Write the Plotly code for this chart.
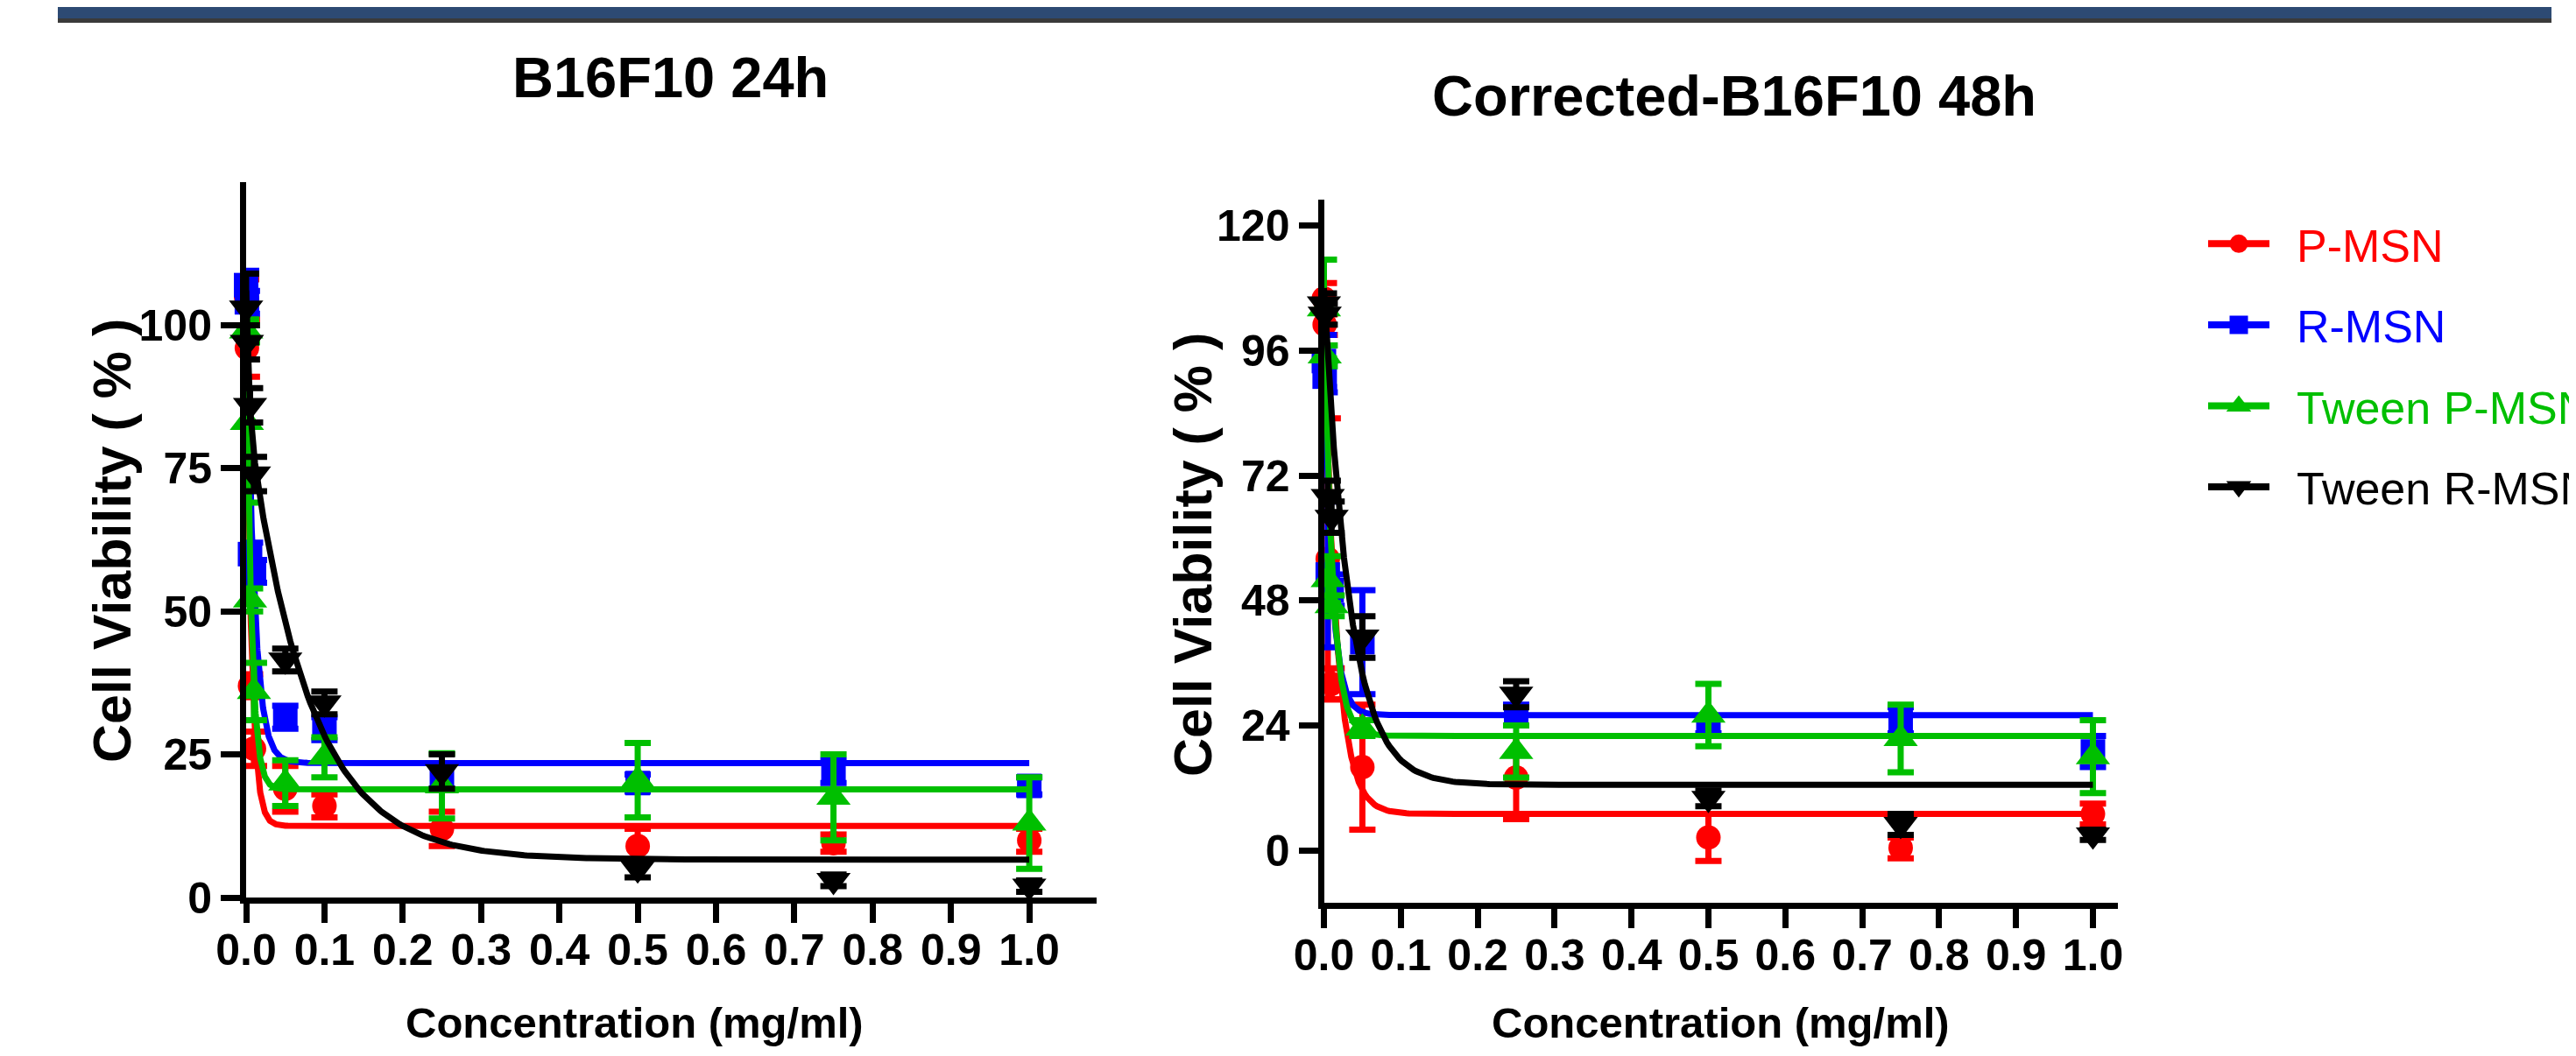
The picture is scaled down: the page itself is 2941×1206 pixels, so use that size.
import numpy as np
import plotly.graph_objects as go

W, H = 2941, 1206

# ---------------- data ----------------
series_names = ["P-MSN", "R-MSN", "Tween P-MSN", "Tween R-MSN"]
series_colors = ["#FF0000", "#0000FF", "#00BF00", "#000000"]
series_symbols = ["circle", "square", "triangle-up", "triangle-down"]

# B16F10 24h
conc_24 = [0, 0.001, 0.005, 0.01, 0.05, 0.1, 0.25, 0.5, 0.75, 1.0]
pmsn_24 = [105, 96, 37, 26, 19, 16, 12, 9, 9.5, 10]
pmsn_24_err = [3, 5, 2, 3, 4, 2, 3, 3, 1.5, 2]
rmsn_24 = [107, 104, 60, 57, 31.5, 29.5, 21, 20, 22, 19.5]
rmsn_24_err = [2.5, 2, 2, 2, 2, 2, 2, 1.5, 2, 1.5]
tpmsn_24 = [99, 83, 52, 36, 20, 24.5, 19.5, 20.5, 17.5, 13]
tpmsn_24_err = [2, 14, 2, 5, 4, 3.5, 5.7, 6.5, 7.5, 8]
trmsn_24 = [103, 97, 86, 74, 41.5, 34, 22, 5, 3, 2]
trmsn_24_err = [6, 3, 3, 3, 2, 2, 3, 1.5, 1, 1]

# Corrected-B16F10 48h
conc_48 = [0, 0.001, 0.005, 0.01, 0.05, 0.25, 0.5, 0.75, 1.0]
pmsn_48 = [106, 101, 56, 32, 16, 14, 2.5, 0.5, 7]
pmsn_48_err = [3, 2, 27, 3, 12, 8, 4.5, 2, 2]
rmsn_48 = [94, 91, 53, 50, 40, 26, 24, 25, 19]
rmsn_48_err = [5, 3, 14, 3, 10, 2, 1.5, 2.5, 3]
tpmsn_48 = [104, 95, 52, 47, 23.5, 19, 26, 21.5, 18]
tpmsn_48_err = [9.5, 2, 4.5, 2, 1.5, 5, 6, 6.5, 7]
trmsn_48 = [105, 103, 68, 64, 41, 30, 10, 5, 3]
trmsn_48_err = [2, 2, 3, 3, 4, 2.5, 1.5, 2, 1]

# one/two-phase decay fit parameters
fit_plateau_24 = [12.5, 23.5, 18.9, 6.6]
fit_span_24 = [87.5, 83.5, 81.0, 79.5]
fit_k_24 = [150, 100, 150, 13]
fit_fast_span_24 = [0, 0, 0, 20]
fit_fast_k_24 = [1, 1, 1, 300]

fit_plateau_48 = [7.0, 26.0, 22.0, 12.6]
fit_span_48 = [93.0, 69.0, 83.0, 95.4]
fit_k_48 = [60, 95, 90, 30]
fit_fast_span_48 = [0, 0, 0, 0]
fit_fast_k_48 = [1, 1, 1, 1]

yticks_24 = [0, 25, 50, 75, 100]
yticks_48 = [0, 24, 48, 72, 96, 120]

title_24 = "B16F10 24h"
title_48 = "Corrected-B16F10 48h"
x_title = "Concentration (mg/ml)"
y_title = "Cell Viability ( % )"

# ---------------- helpers ----------------
FONT = "Liberation Sans, Arial, sans-serif"


def fx(px):
    return px / W


def fy(py):
    return 1 - py / H


fig = go.Figure()

panels = [
    dict(xa="x", ya="y", conc=conc_24,
         vals=[pmsn_24, rmsn_24, tpmsn_24, trmsn_24],
         errs=[pmsn_24_err, rmsn_24_err, tpmsn_24_err, trmsn_24_err],
         plat=fit_plateau_24, span=fit_span_24, k=fit_k_24,
         fspan=fit_fast_span_24, fk=fit_fast_k_24),
    dict(xa="x2", ya="y2", conc=conc_48,
         vals=[pmsn_48, rmsn_48, tpmsn_48, trmsn_48],
         errs=[pmsn_48_err, rmsn_48_err, tpmsn_48_err, trmsn_48_err],
         plat=fit_plateau_48, span=fit_span_48, k=fit_k_48,
         fspan=fit_fast_span_48, fk=fit_fast_k_48),
]

xgrid = np.unique(np.concatenate([np.linspace(0, 0.05, 250), np.linspace(0.05, 1.0, 300)]))

for p in panels:
    for i in range(4):
        size = 28 if i < 2 else 34
        fig.add_trace(go.Scatter(
            x=p["conc"], y=p["vals"][i], xaxis=p["xa"], yaxis=p["ya"],
            mode="markers", showlegend=False, cliponaxis=False,
            marker=dict(symbol=series_symbols[i], color=series_colors[i], size=size,
                        line=dict(width=0)),
            error_y=dict(type="data", array=p["errs"][i], color=series_colors[i],
                         thickness=7, width=15, visible=True),
        ))
        curve = (p["plat"][i] + p["span"][i] * np.exp(-p["k"][i] * xgrid)
                 + p["fspan"][i] * np.exp(-p["fk"][i] * xgrid))
        fig.add_trace(go.Scatter(
            x=xgrid, y=curve, xaxis=p["xa"], yaxis=p["ya"], mode="lines",
            showlegend=False, cliponaxis=False, hoverinfo="skip",
            line=dict(color=series_colors[i], width=7),
        ))

# legend entries
for i in range(4):
    fig.add_trace(go.Scatter(
        x=[None], y=[None], xaxis="x2", yaxis="y2", mode="lines+markers",
        name='<span style="color:%s">\u2002%s</span>' % (series_colors[i], series_names[i]),
        legendgroup="g%d" % i,
        line=dict(color=series_colors[i], width=8),
        marker=dict(symbol=series_symbols[i], color=series_colors[i], size=16,
                    line=dict(color=series_colors[i], width=5)),
    ))

axis_common = dict(
    showline=True, linewidth=7, linecolor="black", mirror=False,
    ticks="outside", ticklen=22, tickwidth=7, tickcolor="black",
    showgrid=False, zeroline=False,
    tickfont=dict(family=FONT, size=50, color="black", weight="bold"),
)

fig.update_layout(
    width=W, height=H,
    margin=dict(l=0, r=0, t=0, b=0, autoexpand=False),
    paper_bgcolor="white", plot_bgcolor="white",
    xaxis=dict(domain=[fx(273), fx(1244)], range=[0, 1.086], anchor="y",
               tick0=0, dtick=0.1, tickformat=".1f", ticklabelstandoff=-12,
               **axis_common),
    yaxis=dict(domain=[fy(1017), fy(200)], range=[0, 125], anchor="x",
               tickvals=yticks_24, **axis_common),
    xaxis2=dict(domain=[fx(1503.5), fx(2410)], range=[0, 1.0325], anchor="y2",
                tick0=0, dtick=0.1, tickformat=".1f", ticklabelstandoff=-12,
                **axis_common),
    yaxis2=dict(domain=[fy(1022.7), fy(220)], range=[-10, 125], anchor="x2",
                tickvals=yticks_48, **axis_common),
    showlegend=True,
    legend=dict(x=fx(2508), y=fy(230), xanchor="left", yanchor="top",
                font=dict(family=FONT, size=52, color="black"),
                itemwidth=70, tracegroupgap=22, bgcolor="rgba(0,0,0,0)",
                borderwidth=0),
    shapes=[
        dict(type="rect", xref="paper", yref="paper", x0=fx(58), x1=fx(2905),
             y0=fy(14), y1=1, fillcolor="#2d4a73", line=dict(width=0), layer="above"),
        dict(type="rect", xref="paper", yref="paper", x0=fx(58), x1=fx(2905),
             y0=fy(18), y1=fy(13), fillcolor="#3a3a3a", line=dict(width=0), layer="above"),
    ],
    annotations=[
        dict(text=title_24, x=fx(757), y=fy(80), xref="paper", yref="paper",
             showarrow=False, xanchor="center", yanchor="middle",
             font=dict(family=FONT, size=65, color="black", weight="bold")),
        dict(text=title_48, x=fx(1972), y=fy(102), xref="paper", yref="paper",
             showarrow=False, xanchor="center", yanchor="middle",
             font=dict(family=FONT, size=65, color="black", weight="bold")),
        dict(text=y_title, x=fx(120), y=fy(610), xref="paper", yref="paper",
             showarrow=False, xanchor="center", yanchor="middle", textangle=-90,
             font=dict(family=FONT, size=61, color="black", weight="bold")),
        dict(text=y_title, x=fx(1354), y=fy(626), xref="paper", yref="paper",
             showarrow=False, xanchor="center", yanchor="middle", textangle=-90,
             font=dict(family=FONT, size=61, color="black", weight="bold")),
        dict(text=x_title, x=fx(716), y=fy(1160), xref="paper", yref="paper",
             showarrow=False, xanchor="center", yanchor="middle",
             font=dict(family=FONT, size=49, color="black", weight="bold")),
        dict(text=x_title, x=fx(1956), y=fy(1160), xref="paper", yref="paper",
             showarrow=False, xanchor="center", yanchor="middle",
             font=dict(family=FONT, size=49, color="black", weight="bold")),
    ],
)

fig.write_html("out.html")
